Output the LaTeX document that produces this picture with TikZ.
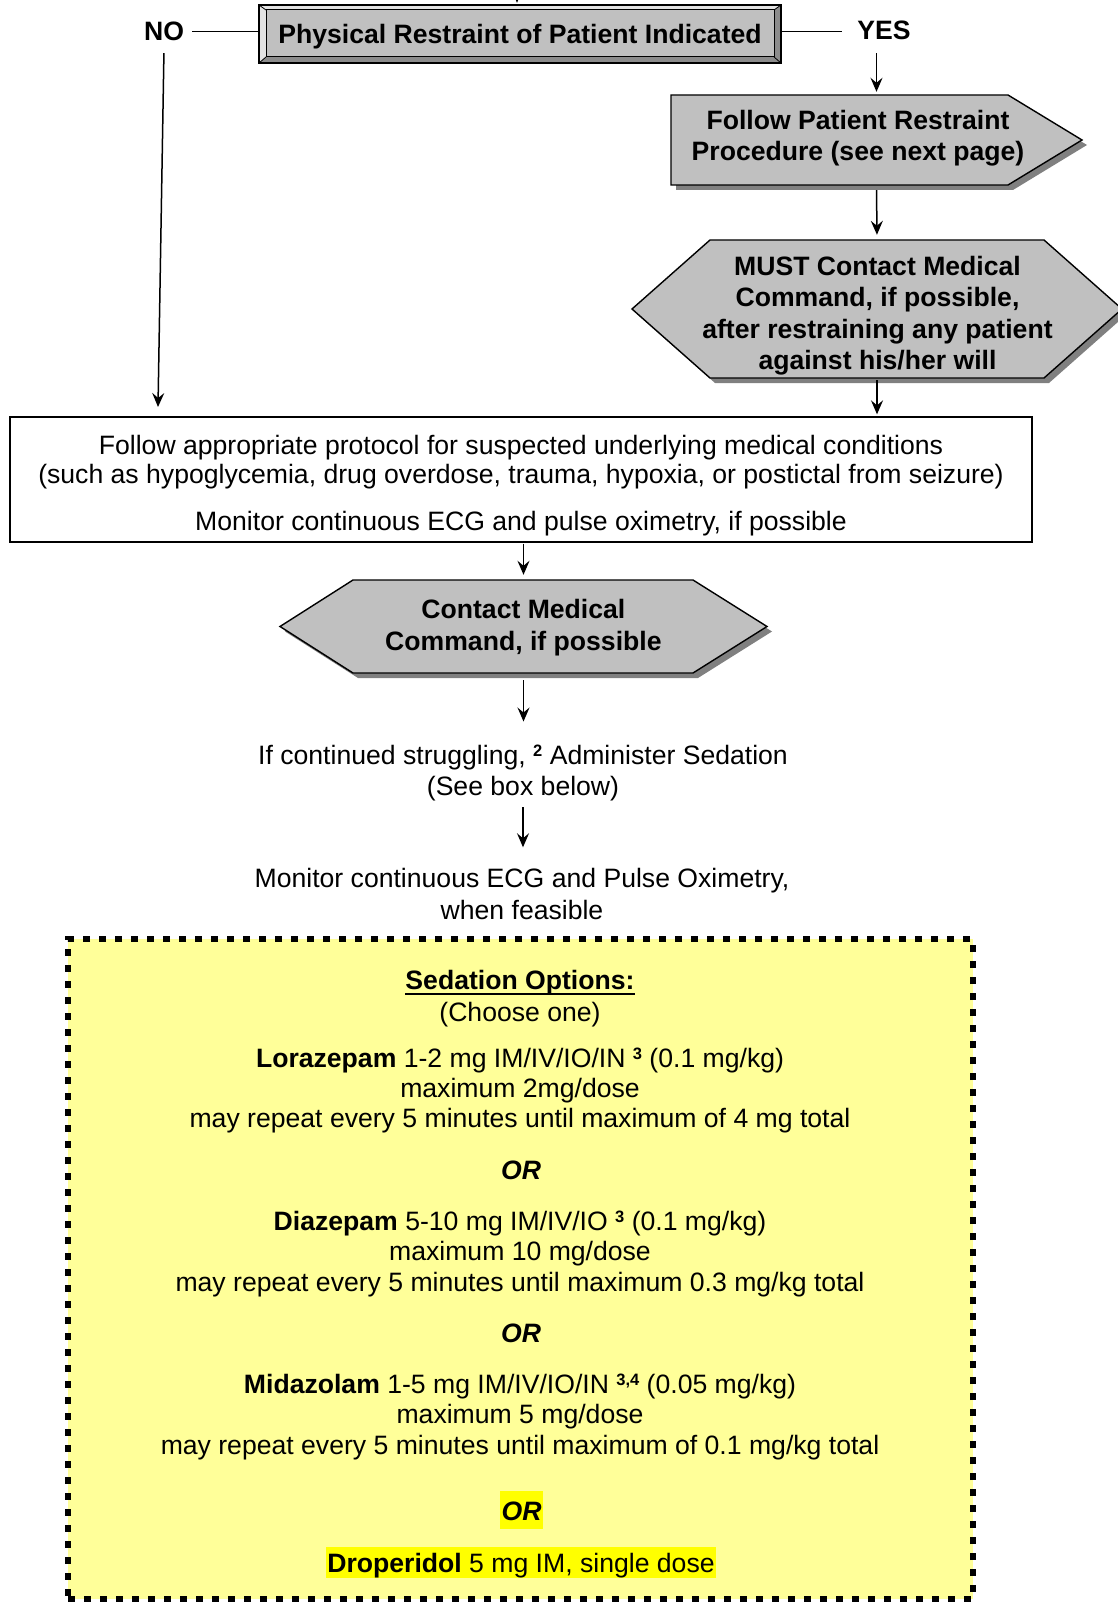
\documentclass[tikz,border=0pt]{standalone}
\usepackage{fontspec}
\setmainfont{Liberation Sans}
\usetikzlibrary{arrows.meta}
\definecolor{shapegray}{HTML}{C0C0C0}
\definecolor{shadowgray}{HTML}{808080}
\definecolor{bevlight}{HTML}{E3E3E3}
\definecolor{bevdark}{HTML}{8C8C8C}
\definecolor{paleyellow}{HTML}{FFFF99}
\definecolor{hlyellow}{HTML}{FFFF00}
\newcommand{\supnum}[1]{\raisebox{8pt}{\fontsize{16.5}{16.5}\selectfont\bfseries #1}}
\begin{document}
\begin{tikzpicture}[x=1pt,y=-1pt,
  every node/.style={inner sep=0pt, font=\fontsize{26.6}{31.5}\selectfont},
  boldtxt/.style={font=\fontsize{26.6}{31.5}\selectfont\bfseries},
  arr/.style={draw, line width=1.5pt, -{Stealth[length=14pt,width=12pt,inset=5pt]}},
  outline/.style={line width=1.4pt},
  ln/.style={anchor=base}
]
\useasboundingbox (0,0) rectangle (1117,1602);

% ---------- top bevel box ----------
\node[minimum width=522pt, minimum height=58pt] (top) at (520,34) {};
\fill[bevlight] (259,5) -- (781,5) -- (774,10) -- (266,10) -- cycle;
\fill[bevlight] (259,5) -- (266,10) -- (266,57) -- (259,63) -- cycle;
\fill[bevdark] (259,63) -- (266,57) -- (774,57) -- (781,63) -- cycle;
\fill[bevdark] (781,5) -- (781,63) -- (774,57) -- (774,10) -- cycle;
\fill[shapegray] (266,10) rectangle (774,57);
\draw[line width=1.3pt] (259,5) rectangle (781,63);
\draw[line width=1pt] (266,10) rectangle (774,57);
\draw[line width=0.8pt] (259,5) -- (266,10) (781,5) -- (774,10) (259,63) -- (266,57) (781,63) -- (774,57);
\node[boldtxt] (topText) at (520,37) {Physical Restraint of Patient Indicated};
\coordinate (inTop) at (517,-20);
\draw[arr, shorten >=2pt] (inTop) -- (inTop |- top.north);

% ---------- NO / YES ----------
\node[boldtxt, inner xsep=8pt, inner ysep=8pt] (no) at (164,31.5) {NO};
\node[boldtxt, inner xsep=15pt, inner ysep=8pt] (yes) at (884,30.5) {YES};
\draw[line width=1.3pt] (no.east) -- (no.east -| top.west);
\draw[line width=1.3pt] (top.east |- no.east) -- (yes.west |- no.east);
\coordinate (noEnd) at (158,407);
\draw[arr, shorten <=4pt] (no.south) -- (noEnd);

% ---------- pentagon ----------
\node[minimum width=411pt, minimum height=90pt] (pent) at (876.5,140) {};
\fill[shadowgray] (676,100) -- (1013,100) -- (1087,145) -- (1013,190) -- (676,190) -- cycle;
\filldraw[fill=shapegray, outline] (671,95) -- (1008,95) -- (1082,140) -- (1008,185) -- (671,185) -- cycle;
\node[boldtxt, align=center] (pentText) at (858,138) {Follow Patient Restraint\\Procedure (see next page)};
\draw[arr, shorten <=5pt, shorten >=3pt] (yes.south -| pent.north) -- (pent.north);

% ---------- MUST hexagon ----------
\node[minimum width=490pt, minimum height=138pt] (must) at (877,309) {};
\fill[shadowgray] (637,314) -- (715,245) -- (1049,245) -- (1127,314) -- (1049,383) -- (715,383) -- cycle;
\filldraw[fill=shapegray, outline] (632,309) -- (710,240) -- (1044,240) -- (1122,309) -- (1044,378) -- (710,378) -- cycle;
\node[boldtxt, align=center] (mustText) at (877.5,315.5) {MUST Contact Medical\\Command, if possible,\\after restraining any patient\\against his/her will};
\draw[arr, shorten <=5pt, shorten >=5pt] (pent.south) -- (must.north);

% ---------- main box ----------
\node[draw, line width=1.3pt, minimum width=1022pt, minimum height=125pt] (mainbox) at (521,479.5) {};
\node[align=center, font=\fontsize{26.6}{29.6}\selectfont] (mainText) at (521,485.5) {Follow appropriate protocol for suspected underlying medical conditions\\(such as hypoglycemia, drug overdose, trauma, hypoxia, or postictal from seizure)\\[17pt]Monitor continuous ECG and pulse oximetry, if possible};
\draw[arr, shorten <=2pt, shorten >=2pt] (must.south) -- (must.south |- mainbox.north);

% ---------- contact hexagon ----------
\node[minimum width=487pt, minimum height=93pt] (cmc) at (523.5,626.5) {};
\fill[shadowgray] (285,631.5) -- (358,585) -- (698,585) -- (772,631.5) -- (698,678) -- (358,678) -- cycle;
\filldraw[fill=shapegray, outline] (280,626.5) -- (353,580) -- (693,580) -- (767,626.5) -- (693,673) -- (353,673) -- cycle;
\node[boldtxt, align=center] (cmcText) at (523.4,627.7) {Contact Medical\\Command, if possible};
\draw[arr, shorten <=1pt, shorten >=5pt] (cmc.north |- mainbox.south) -- (cmc.north);

% ---------- sedation text ----------
\node[align=center] (strug) at (523,773) {If continued struggling, \supnum{2} Administer Sedation\\(See box below)};
\node[align=center] (mon) at (522,894) {Monitor continuous ECG and Pulse Oximetry,\\when feasible};
\draw[arr, shorten <=7pt, shorten >=23pt] (cmc.south) -- (cmc.south |- strug.north);
\draw[arr, shorten <=6pt, shorten >=21pt] (strug.south) -- (strug.south |- mon.north);

% ---------- sedation options box ----------
\node[draw, fill=paleyellow, line width=6.5pt, dash pattern=on 7pt off 9pt, minimum width=905pt, minimum height=660pt] (sedbox) at (520.5,1269) {};
\node[boldtxt, ln] (sedTitle) at (520,989) {Sedation Options:};
\draw[line width=2pt] ([yshift=-5pt]sedTitle.base west) -- ([yshift=-5pt]sedTitle.base east);
\node[ln] (choose) at (520,1021) {(Choose one)};
\node[ln] (lora) at (520,1067) {{\bfseries Lorazepam} 1-2 mg IM/IV/IO/IN \supnum{3} (0.1 mg/kg)};
\node[ln] (loraMax) at (520,1097) {maximum 2mg/dose};
\node[ln] (loraRep) at (520,1127) {may repeat every 5 minutes until maximum of 4 mg total};
\node[ln, font=\fontsize{26.6}{31.5}\selectfont\bfseries\itshape] (or1) at (521,1179) {OR};
\node[ln] (diaz) at (520,1230) {{\bfseries Diazepam} 5-10 mg IM/IV/IO \supnum{3} (0.1 mg/kg)};
\node[ln] (diazMax) at (520,1260) {maximum 10 mg/dose};
\node[ln] (diazRep) at (520,1291) {may repeat every 5 minutes until maximum 0.3 mg/kg total};
\node[ln, font=\fontsize{26.6}{31.5}\selectfont\bfseries\itshape] (or2) at (521,1342) {OR};
\node[ln] (mida) at (520,1393) {{\bfseries Midazolam} 1-5 mg IM/IV/IO/IN \supnum{3,4} (0.05 mg/kg)};
\node[ln] (midaMax) at (520,1423) {maximum 5 mg/dose};
\node[ln] (midaRep) at (520,1454) {may repeat every 5 minutes until maximum of 0.1 mg/kg total};
\node[ln, fill=hlyellow, inner xsep=1.5pt, text height=29pt, text depth=9pt, font=\fontsize{26.6}{31.5}\selectfont\bfseries\itshape] (or3) at (521.5,1520) {OR};
\node[ln, fill=hlyellow, inner xsep=1.5pt, text height=25pt, text depth=6pt] (drop) at (521,1572) {{\bfseries Droperidol} 5 mg IM, single dose};
\end{tikzpicture}
\end{document}
